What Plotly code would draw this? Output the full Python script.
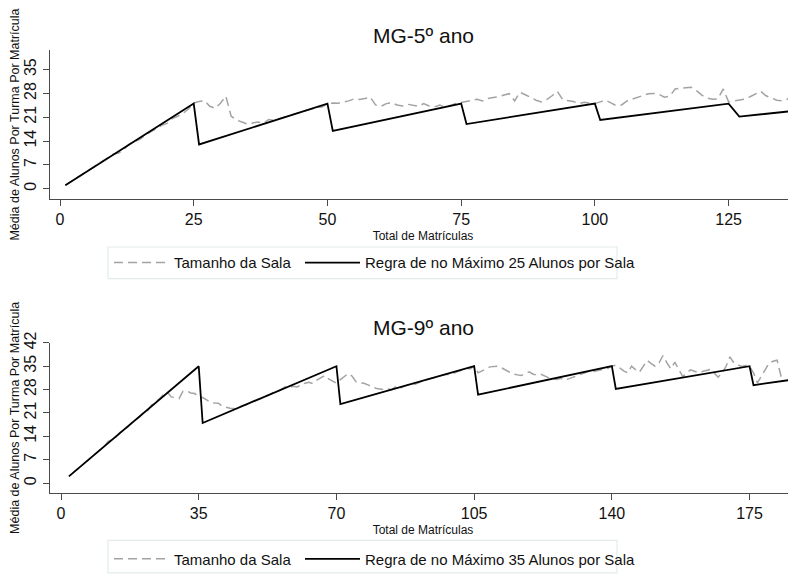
import plotly.graph_objects as go

# ---------------- data ----------------
# MG - 5º ano
n5_sala = list(range(1, 138))
sala5 = [1, 2, 3, 4, 5, 6, 7, 8, 9, 10.2,
         10.5, 11.6, 13.2, 13.8, 14.6, 15.8, 16.7, 17.5, 18.6, 19.2,
         20.6, 21.3, 22.1, 23.4, 25.2, 25.6, 25.9, 24.2, 23.6, 25.1,
         27.2, 21.3, 20.2, 19.6, 19.0, 19.3, 19.6, 19.2, 20.3, 20.1,
         20.6, 21.0, 21.6, 22.0, 22.5, 22.9, 23.4, 23.9, 24.0, 25.0,
         25.2, 25.1, 25.5, 25.8, 26.4, 26.2, 26.5, 26.9, 24.6, 24.2,
         25.0, 25.3, 24.6, 24.3, 24.8, 24.5, 24.2, 25.0, 24.3, 24.0,
         24.6, 23.9, 24.5, 25.0, 25.3, 25.6, 26.0, 26.3, 25.8, 26.5,
         26.8, 27.0, 27.5, 27.9, 25.8, 28.3, 27.6, 26.8, 26.0, 25.5,
         26.2, 27.3, 28.6, 26.1, 25.8, 25.6, 25.0, 25.4, 25.2, 25.0,
         25.5, 26.0, 25.2, 24.4, 24.6, 25.8, 26.3, 26.8, 27.4, 27.9,
         28.0, 27.7, 26.9, 27.2, 29.3, 29.5, 29.8, 29.8, 28.8, 27.5,
         26.6, 26.3, 26.4, 29.3, 25.5, 25.8, 26.0, 26.3, 27.0, 27.8,
         28.6, 27.3, 26.6, 26.0, 25.8, 26.3, 27.4]
n5_regra = [1, 25, 26, 50, 51, 75, 76, 100, 101, 125, 127, 138]
regra5 = [1, 25, 13, 25, 17, 25, 19, 25, 20.2, 25, 21.17, 23]

# MG - 9º ano
n9_sala = list(range(3, 185))
sala9 = [3, 4, 5, 6, 7, 8, 9,
         10, 11, 12.5, 13, 13.8, 15.2, 16, 16.8, 18.1, 19,
         19.8, 21.2, 21.6, 23.4, 24.1, 25.2, 26.5, 27.3, 25.8, 25.6,
         25.3, 27.5, 27.6, 27.0, 26.8, 25.8, 25.6, 24.9, 24.2, 24.0,
         23.9, 23.0, 22.6, 22.4, 22.3, 22.6, 23.2, 23.4, 24.0, 24.6,
         25.1, 25.4, 26.0, 26.6, 27.1, 27.4, 28.1, 28.8, 28.6, 29.0,
         28.8, 29.4, 29.9, 30.2, 29.8, 30.8, 31.6, 32.2, 31.2, 30.5,
         29.9, 31.0, 31.8, 32.8, 32.0, 30.3, 30.0, 29.9, 29.4, 28.9,
         28.4, 28.2, 28.0, 28.3, 27.9, 28.8, 28.3, 28.9, 29.4, 29.8,
         29.6, 30.2, 30.6, 31.0, 31.2, 31.6, 32.0, 32.3, 32.6, 32.5,
         33.1, 33.5, 33.8, 34.4, 34.2, 35.0, 33.0, 33.5, 34.2, 34.8,
         35.0, 35.0, 34.5, 33.9, 33.2, 32.6, 32.4, 32.2, 32.8, 33.3,
         32.6, 32.4, 32.6, 32.0, 31.5, 31.2, 31.0, 31.4, 30.8, 31.2,
         31.6, 32.0, 32.4, 33.0, 33.4, 33.3, 33.6, 33.8, 34.0, 34.4,
         35.0, 35.3, 34.5, 33.6, 33.0, 35.0, 34.0, 33.2, 35.0, 36.7,
         35.8, 35.0, 36.0, 38.2, 36.0, 34.2, 36.2, 34.0, 31.9, 33.0,
         33.9, 33.5, 33.0, 33.4, 33.8, 34.0, 33.0, 31.7, 33.0, 34.9,
         37.8, 36.0, 35.4, 34.9, 35.2, 35.0, 33.0, 30.0, 32.0, 34.0,
         36.0, 36.5, 36.8, 32.0, 31.0]
n9_regra = [2, 35, 36, 70, 71, 105, 106, 140, 141, 175, 176, 186]
regra9 = [2, 35, 18, 35, 23.67, 35, 26.5, 35, 28.2, 35, 29.33, 31]

xticks5 = [0, 25, 50, 75, 100, 125]
yticks5 = [0, 7, 14, 21, 28, 35]
xticks9 = [0, 35, 70, 105, 140, 175]
yticks9 = [0, 7, 14, 21, 28, 35, 42]

title5 = "MG-5º ano"
title9 = "MG-9º ano"
name_sala = "Tamanho da Sala"
name_regra5 = "Regra de no Máximo 25 Alunos por Sala"
name_regra9 = "Regra de no Máximo 35 Alunos por Sala"
ytitle = "Média de Alunos Por Turma Por Matrícula"
xtitle = "Total de Matrículas"

# ---------------- figure ----------------
OFF = 8                     # page body margin
W, H = 796 - OFF, 576 - OFF
L = 50 - OFF
FONT = "Liberation Sans, Arial, Helvetica, sans-serif"
GRAY = "#a3a3a3"
AX = "#4a4a4a"

def px_x(p):                # screen px -> paper x
    return (p - OFF - L) / (W - L)

def px_y(p):                # screen px -> paper y
    return 1 - (p - OFF) / H

fig = go.Figure()

fig.add_trace(go.Scatter(x=n5_sala, y=sala5, mode="lines", name=name_sala,
                         line=dict(color=GRAY, width=1.5, dash="9px,5px"),
                         xaxis="x", yaxis="y", legend="legend"))
fig.add_trace(go.Scatter(x=n5_regra, y=regra5, mode="lines", name=name_regra5,
                         line=dict(color="black", width=1.8),
                         xaxis="x", yaxis="y", legend="legend2"))
fig.add_trace(go.Scatter(x=n9_sala, y=sala9, mode="lines", name=name_sala,
                         line=dict(color=GRAY, width=1.5, dash="9px,5px"),
                         xaxis="x2", yaxis="y2", legend="legend3"))
fig.add_trace(go.Scatter(x=n9_regra, y=regra9, mode="lines", name=name_regra9,
                         line=dict(color="black", width=1.8),
                         xaxis="x2", yaxis="y2", legend="legend4"))

axis_common = dict(showgrid=False, zeroline=False, showline=True, linecolor=AX,
                   linewidth=1.3, ticks="outside", ticklen=6, tickcolor=AX,
                   tickwidth=1.3, tickfont=dict(family=FONT, size=16, color="#111"),
                   automargin=False)

fig.update_layout(
    width=W, height=H,
    margin=dict(l=L, r=0, t=0, b=0),
    paper_bgcolor="white", plot_bgcolor="white",
    font=dict(family=FONT, color="#111"),
    xaxis=dict(domain=[0, 1], range=[-1.87, 137.6], tickvals=xticks5,
               anchor="y",
               title=dict(text=xtitle, font=dict(size=12), standoff=4),
               **axis_common),
    yaxis=dict(domain=[px_y(201), px_y(51)], range=[-2.9, 40.6], tickvals=yticks5,
               tickangle=-90, anchor="x",
               title=dict(text=ytitle, font=dict(size=12.5), standoff=4),
               **axis_common),
    xaxis2=dict(domain=[0, 1], range=[-2.8, 186.8], tickvals=xticks9,
                anchor="y2",
                title=dict(text=xtitle, font=dict(size=12), standoff=4),
                **axis_common),
    yaxis2=dict(domain=[px_y(499), px_y(347)], range=[-2.96, 42], tickvals=yticks9,
                tickangle=-90, anchor="x2",
                title=dict(text=ytitle, font=dict(size=12.5), standoff=4),
                **axis_common),
    showlegend=True,
)

leg_common = dict(orientation="h", bgcolor="rgba(0,0,0,0)", borderwidth=0,
                  font=dict(family=FONT, size=15, color="#111"),
                  itemwidth=55, xanchor="left", yanchor="middle",
                  itemclick=False, itemdoubleclick=False)
fig.update_layout(
    legend=dict(x=px_x(109), y=px_y(266), **leg_common),
    legend2=dict(x=px_x(300), y=px_y(266), **leg_common),
    legend3=dict(x=px_x(109), y=px_y(566), **leg_common),
    legend4=dict(x=px_x(300), y=px_y(566), **leg_common),
)

# legend frames
for top, bot in [(250, 282), (547, 580)]:
    fig.add_shape(type="rect", xref="paper", yref="paper",
                  x0=px_x(108), x1=px_x(617), y0=px_y(bot), y1=px_y(top),
                  line=dict(color="#e3ecec", width=1.2), fillcolor="rgba(0,0,0,0)",
                  layer="below")

# titles
for txt, yy in [(title5, 36), (title9, 331)]:
    fig.add_annotation(text=txt, xref="paper", yref="paper",
                       x=px_x(423), y=px_y(yy), showarrow=False,
                       xanchor="center", yanchor="middle",
                       font=dict(family=FONT, size=21, color="#111"))

fig.write_html("out.html")
